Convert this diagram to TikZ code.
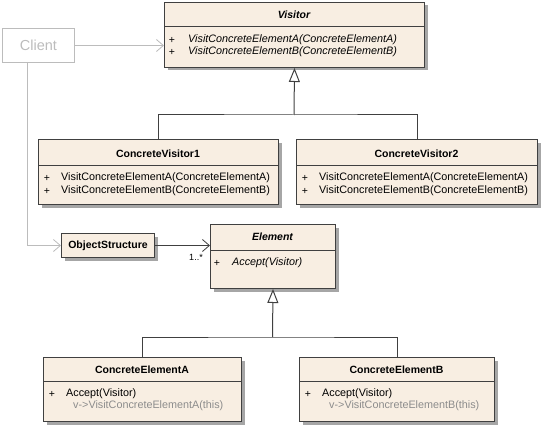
\documentclass[tikz,border=0pt]{standalone}
\usepackage{fontspec}
\setmainfont{Liberation Sans}
\usetikzlibrary{shadows,arrows.meta}
\definecolor{beige}{HTML}{F8EEE2}
\definecolor{boxline}{HTML}{404040}
\definecolor{clientgray}{HTML}{BCBCBC}
\definecolor{subgray}{HTML}{8C8C8C}
\begin{document}
\begin{tikzpicture}[x=1pt,y=-1pt,
  classbox/.style={draw=boxline,fill=beige,line width=1pt,inner sep=0pt,anchor=north west,
    drop shadow={shadow xshift=3pt,shadow yshift=-3pt,fill=black!35,opacity=1}},
  ctitle/.style={font=\fontsize{10.5}{12}\selectfont\bfseries,inner sep=0pt},
  citalic/.style={font=\fontsize{10.5}{12}\selectfont\bfseries\itshape,inner sep=0pt},
  meth/.style={font=\fontsize{10.8}{12}\selectfont,inner sep=0pt,anchor=west},
  methit/.style={font=\fontsize{10.8}{12}\selectfont\itshape,inner sep=0pt,anchor=west},
  plus/.style={font=\fontsize{10.5}{12}\selectfont,inner sep=0pt},
  sep/.style={draw=boxline,line width=1pt},
  conn/.style={draw=boxline,line width=1pt},
  gen/.style={conn,-{Triangle[open,length=14pt,width=11pt,fill=white]}},
  assoc/.style={conn,-{Straight Barb[length=7pt,width=12pt,line width=0.8pt]}},
  grayarrow/.style={draw=clientgray,line width=1pt,-{Straight Barb[length=7pt,width=12pt,line width=0.8pt]}}
]
\useasboundingbox (0,0) rectangle (544,428);

% Client
\node[draw=clientgray,line width=1pt,minimum width=72pt,minimum height=34pt,inner sep=0pt,anchor=north west,
  text=clientgray,font=\fontsize{14.5}{16}\selectfont] (client) at (2,28) {Client};

% Visitor
\node[classbox,minimum width=260pt,minimum height=65pt] (visitor) at (164,2) {};
\node[citalic] (visitorT) at (294,15) {Visitor};
\draw[sep] (164,27) -- (424,27);
\node[plus] (vp1) at (172,40) {+};
\node[plus] (vp2) at (172,52) {+};
\node[methit] (vm1) at (188,40) {VisitConcreteElementA(ConcreteElementA)};
\node[methit] (vm2) at (188,52) {VisitConcreteElementB(ConcreteElementB)};

% ConcreteVisitor1
\node[classbox,minimum width=240pt,minimum height=65pt] (cv1) at (38,139) {};
\node[ctitle] (cv1T) at (158,154) {ConcreteVisitor1};
\draw[sep] (38,165) -- (278,165);
\node[plus] (c1p1) at (47,178) {+};
\node[plus] (c1p2) at (47,191) {+};
\node[meth] (c1m1) at (61,178) {VisitConcreteElementA(ConcreteElementA)};
\node[meth] (c1m2) at (61,191) {VisitConcreteElementB(ConcreteElementB)};

% ConcreteVisitor2
\node[classbox,minimum width=241pt,minimum height=65pt] (cv2) at (296,139) {};
\node[ctitle] (cv2T) at (416.5,154) {ConcreteVisitor2};
\draw[sep] (296,165) -- (537,165);
\node[plus] (c2p1) at (305,178) {+};
\node[plus] (c2p2) at (305,191) {+};
\node[meth] (c2m1) at (319,178) {VisitConcreteElementA(ConcreteElementA)};
\node[meth] (c2m2) at (319,191) {VisitConcreteElementB(ConcreteElementB)};

% ObjectStructure
\node[classbox,minimum width=93pt,minimum height=24pt,font=\fontsize{10.5}{12}\selectfont\bfseries] (os) at (61,233) {ObjectStructure};

% Element
\node[classbox,minimum width=125pt,minimum height=64pt] (elem) at (210,224) {};
\node[citalic] (elemT) at (272.5,237) {Element};
\draw[sep] (210,250) -- (335,250);
\node[plus] (ep1) at (217,263) {+};
\node[methit] (em1) at (232,263) {Accept(Visitor)};

% ConcreteElementA
\node[classbox,minimum width=198pt,minimum height=64pt] (cea) at (43,357) {};
\node[ctitle] (ceaT) at (142,370) {ConcreteElementA};
\draw[sep] (43,381) -- (241,381);
\node[plus] (ap1) at (52,394) {+};
\node[meth] (am1) at (66,394) {Accept(Visitor)};
\node[meth,text=subgray] (am2) at (73,406) {v->VisitConcreteElementA(this)};

% ConcreteElementB
\node[classbox,minimum width=195pt,minimum height=64pt] (ceb) at (299,357) {};
\node[ctitle] (cebT) at (396.5,370) {ConcreteElementB};
\draw[sep] (299,381) -- (494,381);
\node[plus] (bp1) at (308,394) {+};
\node[meth] (bm1) at (322,394) {Accept(Visitor)};
\node[meth,text=subgray] (bm2) at (329,406) {v->VisitConcreteElementB(this)};

% connectors
\coordinate (vj) at (294,115);
\draw[conn] (cv1.north) |- (vj) -| (cv2.north);
\draw[gen] (vj) -- (visitor.south);

\coordinate (ej) at (272.5,337);
\draw[conn] (cea.north) |- (ej) -| (ceb.north);
\draw[gen] (ej) -- (elem.south);

\draw[grayarrow] (client.east) -- (client.east -| visitor.west);
\coordinate (cdown) at (27,62);
\draw[grayarrow] (cdown) |- (os.west);

\draw[assoc] (os.east) -- (os.east -| elem.west);
\node[font=\fontsize{9}{10}\selectfont,inner sep=0pt] (mult) at (196,257) {1..*};
\end{tikzpicture}
\end{document}
